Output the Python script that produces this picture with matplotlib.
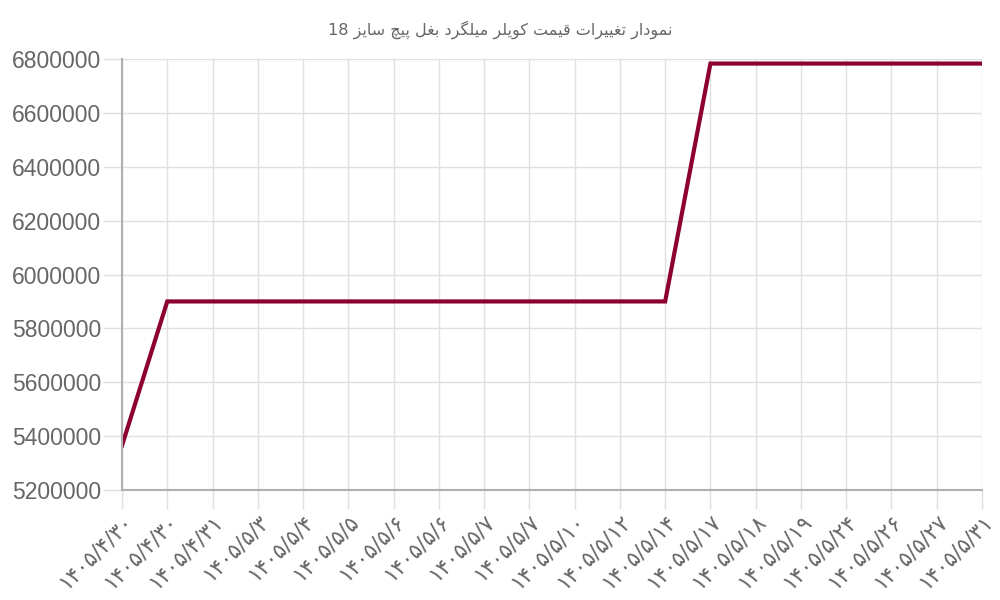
import matplotlib
matplotlib.use('Agg')
import matplotlib.pyplot as plt

title = 'نمودار تغییرات قیمت کویلر میلگرد بغل پیچ سایز 18'
dates = ['۱۴۰۵/۴/۳۰', '۱۴۰۵/۴/۳۰', '۱۴۰۵/۴/۳۱', '۱۴۰۵/۵/۳', '۱۴۰۵/۵/۴',
         '۱۴۰۵/۵/۵', '۱۴۰۵/۵/۶', '۱۴۰۵/۵/۶', '۱۴۰۵/۵/۷', '۱۴۰۵/۵/۷',
         '۱۴۰۵/۵/۱۰', '۱۴۰۵/۵/۱۲', '۱۴۰۵/۵/۱۴', '۱۴۰۵/۵/۱۷', '۱۴۰۵/۵/۱۸',
         '۱۴۰۵/۵/۱۹', '۱۴۰۵/۵/۲۴', '۱۴۰۵/۵/۲۶', '۱۴۰۵/۵/۲۷', '۱۴۰۵/۵/۳۱']
prices = [5365000, 5900000, 5900000, 5900000, 5900000,
          5900000, 5900000, 5900000, 5900000, 5900000,
          5900000, 5900000, 5900000, 6783000, 6783000,
          6783000, 6783000, 6783000, 6783000, 6783000]
y_ticks = [5200000, 5400000, 5600000, 5800000, 6000000,
           6200000, 6400000, 6600000, 6800000]

# isolated, final, initial, medial presentation forms
FORMS = {
    'ا': (0xFE8D, 0xFE8E, None, None),
    'ب': (0xFE8F, 0xFE90, 0xFE91, 0xFE92),
    'ت': (0xFE95, 0xFE96, 0xFE97, 0xFE98),
    'د': (0xFEA9, 0xFEAA, None, None),
    'ر': (0xFEAD, 0xFEAE, None, None),
    'ز': (0xFEAF, 0xFEB0, None, None),
    'س': (0xFEB1, 0xFEB2, 0xFEB3, 0xFEB4),
    'غ': (0xFECD, 0xFECE, 0xFECF, 0xFED0),
    'ق': (0xFED5, 0xFED6, 0xFED7, 0xFED8),
    'ل': (0xFEDD, 0xFEDE, 0xFEDF, 0xFEE0),
    'م': (0xFEE1, 0xFEE2, 0xFEE3, 0xFEE4),
    'ن': (0xFEE5, 0xFEE6, 0xFEE7, 0xFEE8),
    'و': (0xFEED, 0xFEEE, None, None),
    'ی': (0xFBFC, 0xFBFD, 0xFBFE, 0xFBFF),
    'ک': (0xFB8E, 0xFB8F, 0xFB90, 0xFB91),
    'گ': (0xFB92, 0xFB93, 0xFB94, 0xFB95),
    'پ': (0xFB56, 0xFB57, 0xFB58, 0xFB59),
    'چ': (0xFB7A, 0xFB7B, 0xFB7C, 0xFB7D),
}


def shape_word(word):
    out = []
    for i, ch in enumerate(word):
        if ch not in FORMS:
            out.append(ch)
            continue
        prev = word[i - 1] if i > 0 else None
        nxt = word[i + 1] if i + 1 < len(word) else None
        joins_prev = prev in FORMS and FORMS[prev][2] is not None
        joins_next = nxt in FORMS and FORMS[ch][2] is not None
        iso, fin, ini, med = FORMS[ch]
        if joins_prev and joins_next:
            out.append(chr(med))
        elif joins_prev:
            out.append(chr(fin))
        elif joins_next:
            out.append(chr(ini))
        else:
            out.append(chr(iso))
    return ''.join(out)


def rtl_visual(text):
    # no bidi/shaping in matplotlib, so build the visual order by hand
    words = text.split(' ')
    num = [w for w in words if w.isdigit()]
    fa = [w for w in words if not w.isdigit()]
    shaped = ' '.join(shape_word(w) for w in fa)[::-1]
    return ' '.join(num + [shaped])


fig = plt.figure(figsize=(10, 6), dpi=100)
ax = fig.add_axes([0.122, 0.1833, 0.86, 0.7184])

x = list(range(len(dates)))
ax.plot(x, prices, color='#8c0032', linewidth=3, solid_joinstyle='miter')

ax.set_xlim(0, len(dates) - 1)
ax.set_ylim(y_ticks[0], y_ticks[-1])
ax.set_yticks(y_ticks)
ax.set_yticklabels([str(v) for v in y_ticks], fontsize=16.5, color='#666666',
                   family='Liberation Sans')
ax.set_xticks(x)
ax.set_xticklabels(dates, rotation=45, ha='right', rotation_mode='anchor',
                   fontsize=15.5, color='#666666', family='DejaVu Sans')

ax.grid(True, color='#e0e0e0', linewidth=1)
ax.set_axisbelow(True)
ax.tick_params(axis='both', color='#e0e0e0', length=14, width=1)
ax.tick_params(axis='y', pad=1)
ax.tick_params(axis='x', pad=1)
for side in ['top', 'right']:
    ax.spines[side].set_visible(False)
for side in ['left', 'bottom']:
    ax.spines[side].set_color('#b0b0b0')
    ax.spines[side].set_linewidth(1.5)

fig.text(0.5, 0.95, rtl_visual(title), ha='center', va='center',
         fontsize=11.5, color='#666666', family='DejaVu Sans')

fig.savefig('out.png', dpi=100)
